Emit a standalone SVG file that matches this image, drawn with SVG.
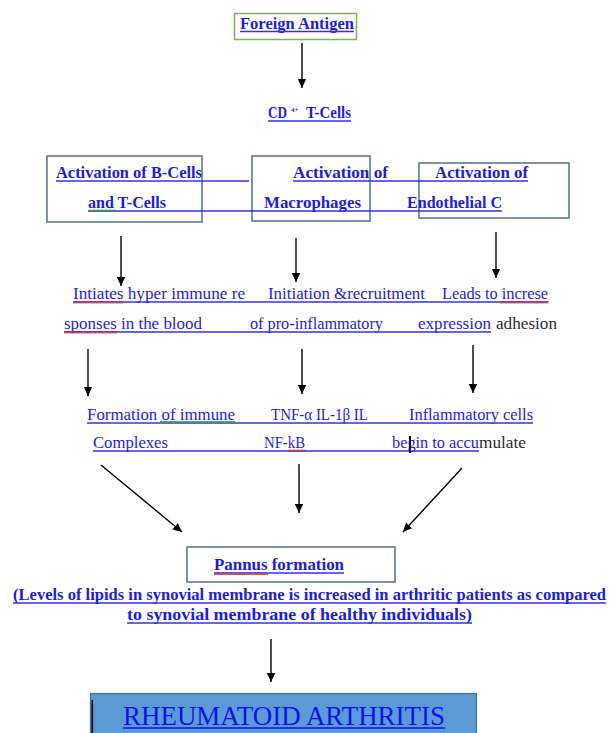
<svg xmlns="http://www.w3.org/2000/svg" width="610" height="733" viewBox="0 0 610 733">
<style>
.t{font-family:"Liberation Serif","Times New Roman",serif;fill:#1c1cdc}
.b{font-weight:bold;font-size:16.5px}
.r{font-size:16px}
.dk{fill:#2a2a40}
.box{fill:none;stroke:#4f6d8c;stroke-width:1.5}
.ul{stroke:#2f2ff0;stroke-width:1.3;fill:none}
.arr{stroke:#000;stroke-width:1.4;fill:none;marker-end:url(#ah)}
</style>
<defs>
<marker id="ah" markerUnits="userSpaceOnUse" markerWidth="10" markerHeight="10" refX="9" refY="5" orient="auto">
<path d="M0,0.8 L9,5 L0,9.2 Z" fill="#000"/>
</marker>
<pattern id="wr" width="4" height="3" patternUnits="userSpaceOnUse">
<path d="M0,2.5 L1,0.5 L2,2.5 L3,0.5 L4,2.5" stroke="#e02020" stroke-width="0.8" fill="none"/>
</pattern>
<pattern id="wg" width="4" height="3" patternUnits="userSpaceOnUse">
<path d="M0,2.5 L1,0.5 L2,2.5 L3,0.5 L4,2.5" stroke="#2e9a2e" stroke-width="0.8" fill="none"/>
</pattern>
</defs>
<rect width="610" height="733" fill="#fff"/>

<g id="connectors">
<line class="arr" x1="302" y1="43" x2="302" y2="88"/>
<line class="arr" x1="121" y1="236" x2="121" y2="286"/>
<line class="arr" x1="296" y1="238" x2="296" y2="282"/>
<line class="arr" x1="496" y1="232" x2="496" y2="278"/>
<line class="arr" x1="88" y1="349" x2="88" y2="396"/>
<line class="arr" x1="302" y1="349" x2="302" y2="394"/>
<line class="arr" x1="473" y1="345" x2="473" y2="393"/>
<line class="arr" x1="101" y1="465" x2="182" y2="532"/>
<line class="arr" x1="299" y1="464" x2="299" y2="513"/>
<line class="arr" x1="462" y1="468" x2="403" y2="532"/>
<line class="arr" x1="271" y1="639" x2="271" y2="682"/>
</g>

<g id="foreign-antigen">
<rect x="234.5" y="13.5" width="122" height="26" fill="none" stroke="#7db553" stroke-width="1.5"/>
<text class="t b" x="240" y="29" textLength="114" lengthAdjust="spacingAndGlyphs">Foreign Antigen</text>
<line class="ul" x1="240" y1="31.5" x2="354" y2="31.5"/>
</g>

<g id="cd4-tcells">
<text class="t b" x="268" y="118" textLength="19" lengthAdjust="spacingAndGlyphs">CD</text>
<text class="t" x="291" y="112" style="font-size:7px;font-weight:bold">4+</text>
<text class="t b" x="306" y="118" textLength="45" lengthAdjust="spacingAndGlyphs">T-Cells</text>
<line class="ul" x1="268" y1="121" x2="351" y2="121"/>
</g>

<g id="activation-row">
<g id="b-t-cells">
<rect class="box" x="47" y="156" width="155" height="66"/>
<text class="t b" x="56" y="178" textLength="146" lengthAdjust="spacingAndGlyphs">Activation of B-Cells</text>
<text class="t b" x="88" y="208" textLength="78" lengthAdjust="spacingAndGlyphs">and T-Cells</text>
</g>
<g id="macrophages">
<rect class="box" x="252" y="156" width="118" height="65"/>
<text class="t b" x="293" y="178" textLength="95" lengthAdjust="spacingAndGlyphs">Activation of</text>
<text class="t b" x="264" y="208" textLength="97" lengthAdjust="spacingAndGlyphs">Macrophages</text>
</g>
<g id="endothelial">
<rect class="box" x="419" y="163" width="150" height="55"/>
<text class="t b" x="435" y="178" textLength="93" lengthAdjust="spacingAndGlyphs">Activation of</text>
<text class="t b" x="407" y="208" textLength="95" lengthAdjust="spacingAndGlyphs">Endothelial C</text>
</g>
<line class="ul" x1="56" y1="181" x2="249" y2="181"/>
<line class="ul" x1="293" y1="181" x2="528" y2="181"/>
<line class="ul" x1="88" y1="211" x2="502" y2="211"/>
<rect x="89" y="209" width="27" height="3" fill="url(#wg)"/>
</g>

<g id="response-row">
<text class="t r" x="73" y="299" textLength="172" lengthAdjust="spacingAndGlyphs">Intiates hyper immune re</text>
<text class="t r" x="268" y="299" textLength="157" lengthAdjust="spacingAndGlyphs">Initiation &amp;recruitment</text>
<text class="t r" x="442" y="299" textLength="106" lengthAdjust="spacingAndGlyphs">Leads to increse</text>
<text class="t r" x="64" y="329" textLength="138" lengthAdjust="spacingAndGlyphs">sponses in the blood</text>
<text class="t r" x="250" y="329" textLength="133" lengthAdjust="spacingAndGlyphs">of pro-inflammatory</text>
<text class="t r" x="418" y="329" textLength="73" lengthAdjust="spacingAndGlyphs">expression</text>
<text class="t r dk" x="496" y="329" textLength="61" lengthAdjust="spacingAndGlyphs">adhesion</text>
<line class="ul" x1="73" y1="302" x2="548" y2="302"/>
<line class="ul" x1="64" y1="332" x2="491" y2="332"/>
<rect x="73" y="301" width="50" height="3" fill="url(#wr)"/>
<rect x="500" y="301" width="49" height="3" fill="url(#wr)"/>
<rect x="64" y="331" width="53" height="3" fill="url(#wr)"/>
</g>

<g id="result-row">
<text class="t r" x="87" y="420" textLength="148" lengthAdjust="spacingAndGlyphs">Formation of immune</text>
<text class="t r" x="271" y="420" textLength="97" lengthAdjust="spacingAndGlyphs">TNF-α IL-1β IL</text>
<text class="t r" x="409" y="420" textLength="124" lengthAdjust="spacingAndGlyphs">Inflammatory cells</text>
<text class="t r" x="93" y="448" textLength="75" lengthAdjust="spacingAndGlyphs">Complexes</text>
<text class="t r" x="264" y="448" textLength="41" lengthAdjust="spacingAndGlyphs">NF-kB</text>
<text class="t r" x="392" y="448" textLength="87" lengthAdjust="spacingAndGlyphs">begin to accu</text>
<text class="t r dk" x="479" y="448" textLength="47" lengthAdjust="spacingAndGlyphs">mulate</text>
<line class="ul" x1="87" y1="423" x2="533" y2="423"/>
<line class="ul" x1="93" y1="451" x2="479" y2="451"/>
<rect x="160" y="421" width="75" height="3" fill="url(#wg)"/>
<rect x="288" y="449" width="18" height="3" fill="url(#wr)"/>
<rect x="409" y="436" width="2" height="17" fill="#111"/>
</g>

<g id="pannus">
<rect class="box" x="187" y="547" width="208" height="35"/>
<text class="t b" x="214" y="570" textLength="130" lengthAdjust="spacingAndGlyphs">Pannus formation</text>
<line class="ul" x1="214" y1="573" x2="344" y2="573"/>
<rect x="214" y="572" width="54" height="3" fill="url(#wr)"/>
<text class="t b" x="13" y="600" textLength="593" lengthAdjust="spacingAndGlyphs">(Levels of lipids in synovial membrane is increased in arthritic patients as compared</text>
<line class="ul" x1="13" y1="603" x2="606" y2="603"/>
<text class="t b" x="127" y="620" textLength="345" lengthAdjust="spacingAndGlyphs">to synovial membrane of healthy individuals)</text>
<line class="ul" x1="127" y1="623" x2="472" y2="623"/>
</g>

<g id="rheumatoid-arthritis">
<rect x="90.5" y="693.5" width="386" height="45" fill="#5b9bd5" stroke="#41719c" stroke-width="1.2"/>
<rect x="91.5" y="700" width="1.6" height="33" fill="#000"/>
<text class="t" x="123" y="725" style="font-size:27px;fill:#1010f0" textLength="322" lengthAdjust="spacingAndGlyphs">RHEUMATOID ARTHRITIS</text>
<line x1="123" y1="728" x2="445" y2="728" stroke="#1010f0" stroke-width="1.3"/>
</g>
</svg>
